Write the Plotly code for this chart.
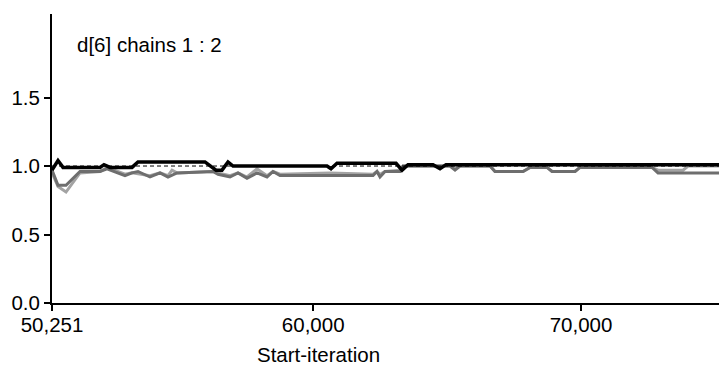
import plotly.graph_objects as go

# Black line (BGR ratio)
ratio_iter = [50251, 50475, 50662, 52043, 52192, 52416, 53237, 53461, 55962, 56373,
              56597, 56821, 57008, 60517, 60666, 60890, 63093, 63317, 63541, 64474,
              64735, 64959, 75150]
ratio_val = [0.97, 1.04, 0.99, 0.99, 1.01, 0.99, 0.99, 1.03, 1.03, 0.97,
             0.97, 1.03, 1.00, 1.00, 0.98, 1.02, 1.02, 0.97, 1.01, 1.01,
             0.98, 1.01, 1.01]

# Light grey line (pooled width, normalised)
pooled_iter = [50251, 50475, 50774, 51296, 52043, 52304, 52976, 53237, 53909, 54283,
               54581, 54731, 54917, 56261, 56448, 56896, 57194, 57530, 57904, 58277,
               58501, 58762, 60629, 62234, 62383, 62495, 62682, 63242, 63354, 65108,
               65295, 65482, 66602, 66788, 67834, 68095, 68730, 68917, 69775, 69962,
               72650, 72874, 73807, 73994, 75150]
pooled_val = [0.95, 0.85, 0.81, 0.95, 0.96, 0.99, 0.94, 0.95, 0.93, 0.95,
              0.93, 0.97, 0.95, 0.96, 0.95, 0.93, 0.95, 0.92, 0.98, 0.93,
              0.96, 0.94, 0.95, 0.94, 0.96, 0.94, 0.96, 0.97, 1.00, 1.00,
              0.98, 1.00, 1.00, 0.96, 0.96, 0.99, 0.99, 0.96, 0.96, 0.99,
              0.99, 0.97, 0.97, 1.00, 1.00]

# Dark grey line (within width, normalised)
within_iter = [50251, 50475, 50774, 51296, 52043, 52304, 52976, 53237, 53461, 53909,
               54283, 54581, 54917, 56261, 56448, 56896, 57194, 57530, 57904, 58277,
               58501, 58762, 62234, 62383, 62495, 62682, 63242, 63354, 65108, 65295,
               65482, 66602, 66788, 67834, 68095, 68730, 68917, 69775, 69962, 72650,
               72874, 75150]
within_val = [0.97, 0.86, 0.86, 0.96, 0.96, 0.98, 0.93, 0.95, 0.96, 0.92,
              0.95, 0.92, 0.95, 0.96, 0.94, 0.92, 0.95, 0.91, 0.95, 0.92,
              0.96, 0.93, 0.93, 0.96, 0.92, 0.96, 0.96, 1.00, 1.00, 0.97,
              1.00, 1.00, 0.96, 0.96, 0.99, 0.99, 0.96, 0.96, 0.99, 0.99,
              0.95, 0.95]

ref_iter = [50251, 75150]
ref_val = [1.0, 1.0]

x_tickvals = [50251, 60000, 70000]
x_ticktext = ["50,251", "60,000", "70,000"]
y_tickvals = [0.0, 0.5, 1.0, 1.5]

FONT = "Liberation Sans, Arial, Helvetica, sans-serif"
FS = 20.5

fig = go.Figure()
fig.add_trace(go.Scatter(x=pooled_iter, y=pooled_val, mode="lines",
                         line=dict(color="#a3a3a3", width=3), showlegend=False))
fig.add_trace(go.Scatter(x=within_iter, y=within_val, mode="lines",
                         line=dict(color="#6e6e6e", width=3), showlegend=False))
fig.add_trace(go.Scatter(x=ref_iter, y=ref_val, mode="lines",
                         line=dict(color="black", width=1, dash="4px,3px"), showlegend=False))
fig.add_trace(go.Scatter(x=ratio_iter, y=ratio_val, mode="lines",
                         line=dict(color="black", width=3.5), showlegend=False))

fig.update_layout(
    width=719, height=368,
    margin=dict(l=52, r=0, t=14, b=65),
    paper_bgcolor="white", plot_bgcolor="white",
    font=dict(family=FONT, size=FS, color="black"),
    xaxis=dict(range=[50251, 75149], tickvals=x_tickvals, ticktext=x_ticktext,
               showgrid=False, zeroline=False, showline=True, linecolor="black",
               linewidth=2, ticks="outside", ticklen=6, tickwidth=1.5, tickcolor="black",
               ticklabelstandoff=-4),
    yaxis=dict(range=[0, 2.11], tickvals=y_tickvals, tickformat=".1f",
               showgrid=False, zeroline=False, showline=True, linecolor="black",
               linewidth=2, ticks="outside", ticklen=6, tickwidth=1.5, tickcolor="black"),
    annotations=[
        dict(text="d[6] chains 1 : 2", xref="paper", yref="paper", x=0.0345, y=0.893,
             xanchor="left", yanchor="middle", showarrow=False,
             font=dict(family=FONT, size=FS, color="black")),
        dict(text="Start-iteration", xref="paper", yref="paper", x=0.40, y=-0.1765,
             xanchor="center", yanchor="middle", showarrow=False,
             font=dict(family=FONT, size=FS, color="black")),
    ],
)

fig.write_html("out.html")
